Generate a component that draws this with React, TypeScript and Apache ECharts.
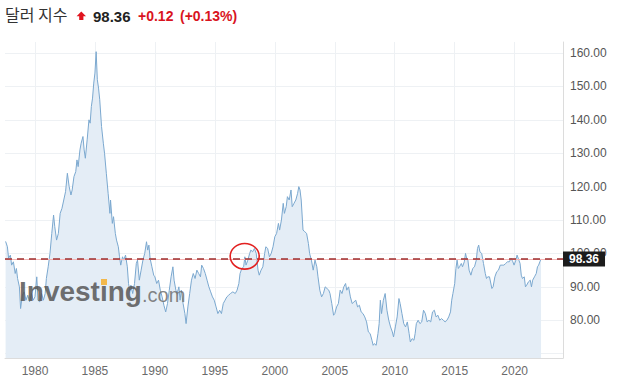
import React, { useEffect, useRef } from "react";
import * as echarts from "echarts";

const TITLE = "달러 지수";
const LAST = "98.36";
const CHANGE = "+0.12";
const CHANGE_PCT = "(+0.13%)";
const LAST_VALUE = 98.36;

const years: number[] = [
  1977.55, 1977.7, 1977.8, 1977.95, 1978.05, 1978.2, 1978.35, 1978.45, 1978.55, 1978.7, 1978.8, 1978.95,
  1979.1, 1979.25, 1979.4, 1979.55, 1979.7, 1979.85, 1980.0, 1980.15, 1980.25, 1980.4, 1980.55, 1980.7,
  1980.85, 1980.95, 1981.1, 1981.25, 1981.4, 1981.55, 1981.65, 1981.8, 1981.95, 1982.1, 1982.25, 1982.4,
  1982.55, 1982.7, 1982.85, 1983.0, 1983.1, 1983.25, 1983.4, 1983.5, 1983.6, 1983.75, 1983.85, 1984.0,
  1984.1, 1984.2, 1984.35, 1984.5, 1984.6, 1984.7, 1984.8, 1984.9, 1985.0, 1985.1, 1985.2, 1985.3,
  1985.4, 1985.55, 1985.7, 1985.8, 1985.95, 1986.1, 1986.25, 1986.3, 1986.45, 1986.55, 1986.7, 1986.8,
  1986.95, 1987.05, 1987.15, 1987.3, 1987.4, 1987.55, 1987.7, 1987.8, 1987.9, 1988.0, 1988.15, 1988.3,
  1988.45, 1988.55, 1988.7, 1988.85, 1989.0, 1989.15, 1989.3, 1989.4, 1989.5, 1989.6, 1989.75, 1989.9,
  1990.0, 1990.15, 1990.3, 1990.45, 1990.6, 1990.75, 1990.9, 1991.05, 1991.2, 1991.35, 1991.5, 1991.6,
  1991.75, 1991.85, 1992.0, 1992.1, 1992.2, 1992.35, 1992.5, 1992.6, 1992.75, 1992.9, 1993.05, 1993.2,
  1993.35, 1993.5, 1993.65, 1993.8, 1993.9, 1994.05, 1994.2, 1994.35, 1994.5, 1994.65, 1994.8, 1994.95,
  1995.1, 1995.25, 1995.4, 1995.55, 1995.7, 1995.85, 1996.0, 1996.15, 1996.3, 1996.5, 1996.7, 1996.85,
  1997.0, 1997.1, 1997.25, 1997.4, 1997.5, 1997.6, 1997.75, 1997.9, 1998.0, 1998.15, 1998.3, 1998.45,
  1998.6, 1998.7, 1998.85, 1999.0, 1999.15, 1999.25, 1999.4, 1999.55, 1999.7, 1999.85, 2000.0, 2000.15,
  2000.3, 2000.4, 2000.55, 2000.7, 2000.8, 2000.95, 2001.05, 2001.2, 2001.35, 2001.45, 2001.6, 2001.75,
  2001.9, 2002.0, 2002.1, 2002.2, 2002.35, 2002.5, 2002.65, 2002.8, 2002.9, 2003.05, 2003.2, 2003.35,
  2003.5, 2003.6, 2003.75, 2003.9, 2004.05, 2004.2, 2004.35, 2004.5, 2004.6, 2004.75, 2004.9, 2005.0,
  2005.15, 2005.3, 2005.45, 2005.6, 2005.75, 2005.9, 2006.0, 2006.15, 2006.3, 2006.45, 2006.6, 2006.75,
  2006.9, 2007.05, 2007.2, 2007.35, 2007.5, 2007.65, 2007.8, 2007.95, 2008.1, 2008.2, 2008.3, 2008.45,
  2008.6, 2008.7, 2008.8, 2008.9, 2009.05, 2009.2, 2009.35, 2009.5, 2009.65, 2009.8, 2009.9, 2010.05,
  2010.2, 2010.35, 2010.45, 2010.6, 2010.75, 2010.9, 2011.05, 2011.2, 2011.3, 2011.45, 2011.6, 2011.7,
  2011.8, 2011.95, 2012.1, 2012.25, 2012.4, 2012.55, 2012.7, 2012.85, 2013.0, 2013.15, 2013.3, 2013.45,
  2013.6, 2013.75, 2013.9, 2014.05, 2014.2, 2014.35, 2014.5, 2014.65, 2014.75, 2014.85, 2015.0, 2015.1,
  2015.2, 2015.3, 2015.4, 2015.55, 2015.65, 2015.8, 2015.9, 2016.0, 2016.1, 2016.2, 2016.35, 2016.5,
  2016.65, 2016.8, 2016.9, 2017.0, 2017.1, 2017.25, 2017.4, 2017.55, 2017.65, 2017.75, 2017.9, 2018.1,
  2018.2, 2018.35, 2018.5, 2018.65, 2018.8, 2018.95, 2019.1, 2019.25, 2019.4, 2019.55, 2019.7, 2019.85,
  2019.95, 2020.1, 2020.2, 2020.35, 2020.45, 2020.55, 2020.65, 2020.8, 2020.9, 2021.0, 2021.15, 2021.3,
  2021.4, 2021.5, 2021.65, 2021.8, 2021.9, 2022.0, 2022.1, 2022.2,
];

const dxy: number[] = [
  103.6, 102, 98.6, 99.5, 96.5, 97.5, 94, 95.5, 92.5, 90, 83.5, 87.5,
  88.5, 86, 87.5, 85.5, 88, 86, 87, 93, 86, 85.5, 88, 86,
  88, 92.5, 96, 100, 106, 111.5, 108, 104, 106, 112, 113.5, 116,
  118.5, 124, 120, 117.5, 119, 123, 124.5, 128, 126, 131, 133, 135,
  131, 128.5, 134, 140, 139, 144, 146.5, 151, 154, 160.4, 152, 149.5,
  146, 138, 133, 130, 124, 118, 112, 116, 109, 111, 106, 104,
  102, 99, 96.5, 99, 98, 99.5, 96, 91, 89, 90.5, 88, 91,
  97, 98, 92, 95, 98, 100, 103.5, 101, 102.5, 98.5, 96, 93.5,
  93, 91, 92, 89, 87, 84.5, 82.5, 85, 89, 93, 96, 92,
  89, 88, 90, 86, 89, 85, 82, 79, 84, 88, 92, 94,
  92.5, 95, 94, 93, 96.5, 95.5, 94, 92, 90, 88.5, 87, 86,
  84, 82, 83, 82, 85, 86, 87, 87.5, 88, 88.5, 88, 89,
  91, 94, 95.5, 96, 99, 96.5, 98, 100, 101, 100.5, 101.5, 100,
  95, 93.5, 95, 96, 100, 102, 101.5, 99, 100, 102, 105, 106,
  109, 107, 110, 115, 112, 114, 117, 116, 119, 114, 115, 116,
  118, 120, 119, 116, 107, 106.5, 106, 103, 100, 98, 95, 98,
  96, 93, 89, 87, 88, 90, 89.5, 89, 88, 85, 81.5, 82,
  84, 85, 89, 88, 90, 91, 89, 90, 87, 85, 85.5, 86,
  84, 84.5, 82.5, 82, 81, 79.5, 76.5, 76, 74, 72.5, 73, 72.5,
  76, 79, 86, 82, 86, 88, 83, 80, 78, 76.5, 75, 78,
  81, 86.5, 85, 82, 79, 78, 79.5, 76, 73.5, 74.5, 74, 76,
  79, 80, 79, 79.5, 83, 82, 79.5, 80, 79.5, 82.5, 83, 81,
  81.5, 80, 80.5, 80, 79.5, 80, 81, 82.5, 86, 88, 91, 95.5,
  98, 95.5, 96, 97, 96, 97.5, 100, 98.5, 98, 95, 93.5, 95.5,
  96, 98, 101.5, 102.5, 100.5, 100, 97, 94, 92.5, 93, 93, 89.5,
  90, 93, 94.5, 95, 96.5, 96.5, 96.5, 97, 97.5, 97.5, 98.5, 97.5,
  96.5, 98, 99.5, 98, 97, 93.5, 92.5, 93, 90, 90.5, 91.5, 92,
  90, 92, 93, 94, 96, 96.5, 97.5, 98.36,
];

export default function App() {
  const ref = useRef<HTMLDivElement>(null);
  useEffect(() => {
    document.body.style.margin = "0";
    const chart = echarts.init(ref.current!, null, { renderer: "svg" });
    const data = years.map((y, i) => [y, dxy[i]]);
    const font = "'Liberation Sans', Arial, sans-serif";
    chart.setOption({
      animation: false,
      textStyle: { fontFamily: font },
      grid: { left: 5, right: 64, top: 42, bottom: 26 },
      xAxis: {
        type: "value",
        min: 1977.5,
        max: 2024.03,
        splitNumber: 9,
        minInterval: 5,
        maxInterval: 5,
        axisLine: { show: true, lineStyle: { color: "#dcdcdc" } },
        axisTick: { show: false },
        axisLabel: {
          color: "#6a6a6a",
          fontSize: 12,
          margin: 7,
          showMinLabel: false,
          showMaxLabel: false,
          formatter: (v: number) => (Math.abs(v % 5) < 1e-6 ? String(v) : ""),
        },
        splitLine: { show: true, showMinLine: false, showMaxLine: false, lineStyle: { color: "#eef1f4" } },
      },
      yAxis: {
        type: "value",
        position: "right",
        min: 68.7,
        max: 163.3,
        splitNumber: 9,
        minInterval: 10,
        maxInterval: 10,
        axisLine: { show: true, lineStyle: { color: "#dcdcdc" } },
        axisTick: { show: false },
        axisLabel: {
          color: "#555",
          fontSize: 12,
          margin: 7,
          showMinLabel: false,
          showMaxLabel: false,
          formatter: (v: number) =>
            v > 75 && v < 161 && Math.abs(v % 10) < 1e-6 ? v.toFixed(2) : "",
        },
        splitLine: { show: true, showMinLine: false, showMaxLine: false, lineStyle: { color: "#eef1f4" } },
      },
      series: [
        {
          type: "line",
          data,
          showSymbol: false,
          symbol: "none",
          lineStyle: { color: "#7ba8cf", width: 1 },
          areaStyle: { color: "#e4edf6", opacity: 1, origin: "start" },
          z: 2,
          markLine: {
            silent: true,
            symbol: ["none", "none"],
            data: [
              {
                yAxis: LAST_VALUE,
                lineStyle: { color: "#f5b5b5", type: "solid", width: 1 },
                label: { show: false },
              },
              {
                yAxis: LAST_VALUE,
                lineStyle: { color: "#9e2f2f", type: [7, 5], width: 1.5 },
                label: {
                  show: true,
                  position: "end",
                  distance: 0,
                  formatter: LAST,
                  backgroundColor: "#1c1c1c",
                  color: "#fff",
                  fontWeight: "bold",
                  fontSize: 12,
                  fontFamily: font,
                  padding: [2, 6, 1, 6],
                },
              },
            ],
          },
        },
      ],
      graphic: [
        {
          type: "text",
          left: 5,
          top: 6,
          style: { text: TITLE, fontSize: 16, fill: "#333", fontFamily: "'Noto Sans CJK KR', sans-serif" },
        },
        {
          type: "polygon",
          shape: {
            points: [
              [81.3, 11.5],
              [86, 16.2],
              [83.4, 16.2],
              [83.4, 20],
              [79.2, 20],
              [79.2, 16.2],
              [76.6, 16.2],
            ],
          },
          style: { fill: "#e0141e" },
        },
        {
          type: "text",
          x: 93,
          y: 16,
          style: { text: LAST, fontSize: 15, fontWeight: "bold", fill: "#222", fontFamily: font, textVerticalAlign: "middle" },
        },
        {
          type: "text",
          x: 138,
          y: 16,
          style: { text: CHANGE, fontSize: 14, fontWeight: "bold", fill: "#d9141e", fontFamily: font, textVerticalAlign: "middle" },
        },
        {
          type: "text",
          x: 180,
          y: 16,
          style: { text: CHANGE_PCT, fontSize: 14, fontWeight: "bold", fill: "#d9141e", fontFamily: font, textVerticalAlign: "middle" },
        },
        {
          type: "text",
          x: 19,
          y: 277,
          z: 5,
          style: {
            text: "Investing",
            fontSize: 28,
            fontWeight: "bold",
            fill: "#565656",
            opacity: 0.85,
            fontFamily: font,
          },
        },
        {
          type: "rect",
          z: 6,
          shape: { x: 101, y: 279, width: 6, height: 6 },
          style: { fill: "#f2b84b" },
        },
        {
          type: "text",
          x: 142,
          y: 285,
          z: 5,
          style: {
            text: ".com",
            fontSize: 20,
            fill: "#6f6f6f",
            opacity: 0.85,
            fontFamily: font,
          },
        },
        {
          type: "ellipse",
          z: 10,
          shape: { cx: 244.7, cy: 256.3, rx: 14.5, ry: 12.8 },
          style: { fill: "none", stroke: "#e22020", lineWidth: 1.6 },
        },
      ],
    });
    return () => chart.dispose();
  }, []);
  return <div ref={ref} style={{ width: 627, height: 384 }} />;
}
